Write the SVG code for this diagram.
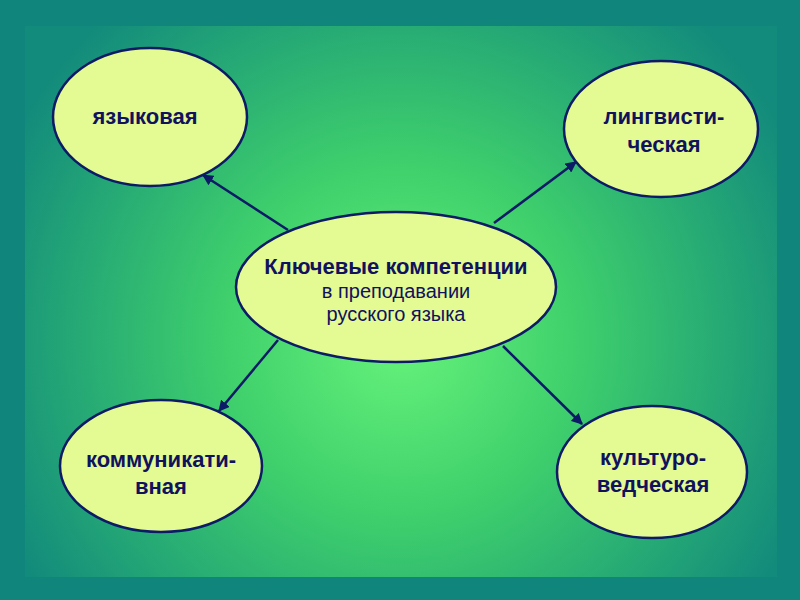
<svg xmlns="http://www.w3.org/2000/svg" width="800" height="600" viewBox="0 0 800 600">
<defs>
<radialGradient id="bg" cx="400" cy="340" r="440" gradientUnits="userSpaceOnUse">
<stop offset="0" stop-color="#66f27a"/>
<stop offset="0.4" stop-color="#3fd06c"/>
<stop offset="1" stop-color="#128a7c"/>
</radialGradient>
<marker id="ah" viewBox="0 0 10 10" refX="9" refY="5" markerWidth="4.5" markerHeight="4.5" orient="auto" markerUnits="strokeWidth">
<path d="M0,0 L10,5 L0,10 z" fill="#0d1a66"/>
</marker>
<style>
.node ellipse{fill:#e4fa92;stroke:#0d1a66;stroke-width:2.5}
.t{font-family:"Liberation Sans",Arial,sans-serif;fill:#10125e;text-anchor:middle}
.b{font-weight:bold;font-size:22px}
.r{font-size:20px}
.conn line{stroke:#0d1a66;stroke-width:2.5;marker-end:url(#ah)}
</style>
</defs>
<rect x="0" y="0" width="800" height="600" fill="#10857b"/>
<rect x="25" y="26" width="752" height="551" fill="url(#bg)"/>
<g class="conn">
<line x1="288" y1="230" x2="203" y2="175"/>
<line x1="494" y1="223" x2="576" y2="162"/>
<line x1="278" y1="340" x2="219" y2="411"/>
<line x1="503" y1="346" x2="582" y2="424"/>
</g>
<g id="center" class="node">
<ellipse cx="396" cy="287" rx="160" ry="75"/>
<text class="t b" x="396" y="274">Ключевые компетенции</text>
<text class="t r" x="396" y="298">в преподавании</text>
<text class="t r" x="396" y="321">русского языка</text>
</g>
<g id="yazyk" class="node">
<ellipse cx="150" cy="117" rx="97" ry="69"/>
<text class="t b" x="145" y="124">языковая</text>
</g>
<g id="ling" class="node">
<ellipse cx="661" cy="129" rx="97" ry="68"/>
<text class="t b" x="664" y="124">лингвисти-</text>
<text class="t b" x="664" y="152">ческая</text>
</g>
<g id="komm" class="node">
<ellipse cx="161" cy="466" rx="101" ry="66"/>
<text class="t b" x="161" y="467">коммуникати-</text>
<text class="t b" x="161" y="494">вная</text>
</g>
<g id="kult" class="node">
<ellipse cx="652" cy="472" rx="95" ry="66"/>
<text class="t b" x="653" y="465">культуро-</text>
<text class="t b" x="653" y="492">ведческая</text>
</g>
</svg>
